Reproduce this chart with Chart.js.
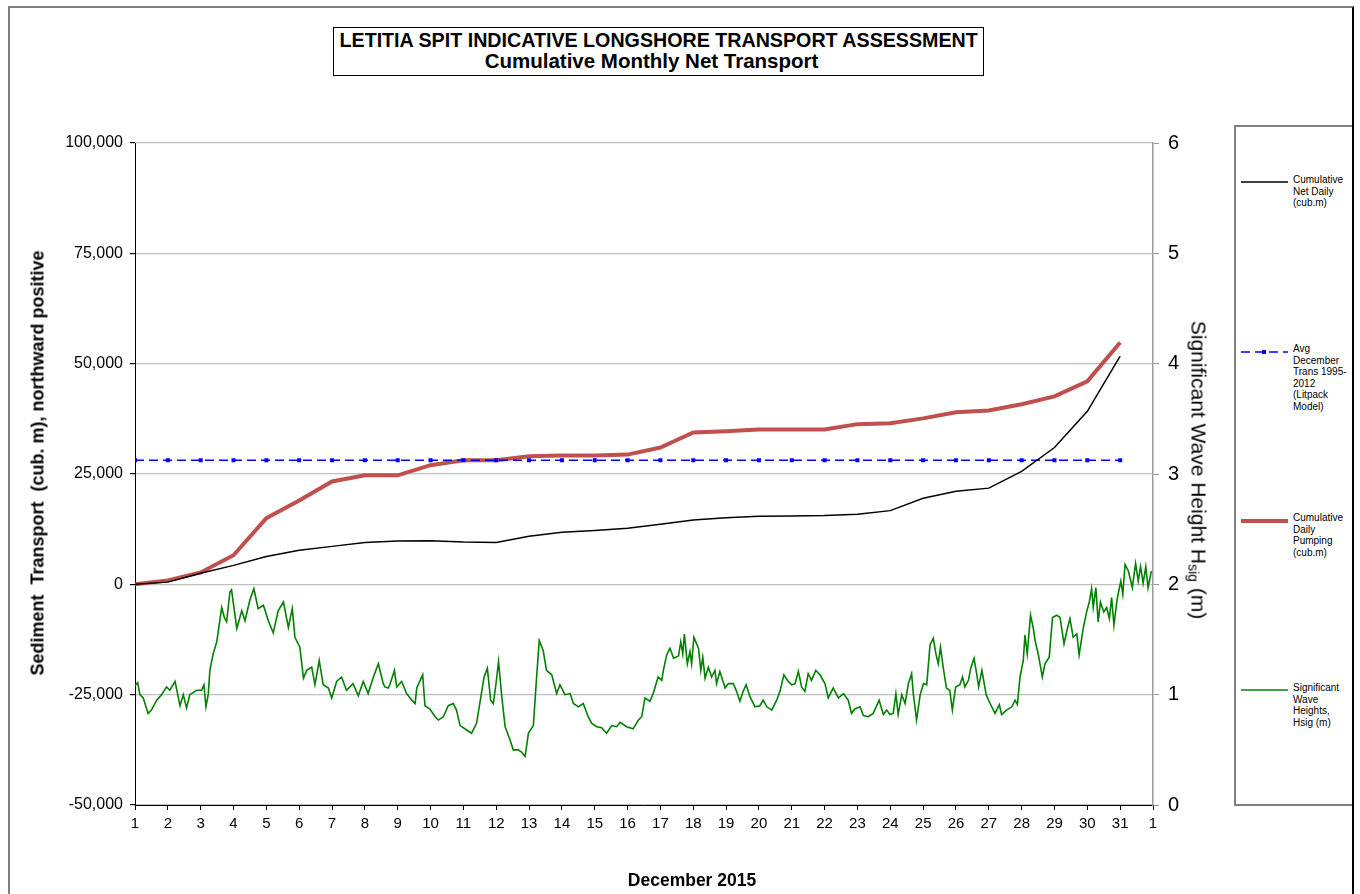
<!DOCTYPE html>
<html>
<head>
<meta charset="utf-8">
<script src="https://cdn.jsdelivr.net/npm/chart.js@4/dist/chart.umd.min.js"></script>
<style>
  html, body { margin: 0; padding: 0; background: #fff; }
  body { width: 1360px; height: 894px; position: relative; overflow: hidden; font-family: "Liberation Sans", Arial, sans-serif; color: #000; }
  #wrap { position: absolute; left: 0; top: 0; width: 1360px; height: 894px; }
  canvas { position: absolute; left: 0; top: 0; }
  .frame { position: absolute; left: 8px; top: 6px; width: 1342px; height: 900px; border-top: 2px solid #808080; border-left: 2px solid #808080; border-right: 2px solid #000; pointer-events: none; }
  .title { position: absolute; left: 333px; top: 27px; width: 649px; height: 47px; border: 1px solid #000; background: #fff; text-align: center; font-weight: bold; }
  .title .l1 { font-size: 20px; line-height: 21px; margin-top: 2px; transform: scaleX(0.983); white-space: nowrap; }
  .title .l2 { font-size: 20.5px; line-height: 21px; white-space: nowrap; padding-right: 14px; margin-top: -1px; }
  .rot { position: absolute; white-space: nowrap; transform-origin: center center; }
  .ytitle { left: 38px; top: 463px; transform: translate(-50%, -50%) rotate(-90deg); font-weight: bold; font-size: 18px; white-space: pre; }
  .y2title { left: 1198px; top: 470px; transform: translate(-50%, -50%) rotate(90deg); font-size: 21px; }
  .y2title sub { font-size: 14px; vertical-align: -3px; }
  .xtitle { position: absolute; left: 692px; top: 880px; transform: translate(-50%, -50%); font-weight: bold; font-size: 17.5px; white-space: nowrap; }
  .legend { position: absolute; left: 1234px; top: 125px; width: 116px; height: 677px; border-top: 2px solid #808080; border-left: 2px solid #808080; border-bottom: 2px solid #808080; background: #fff; }
  .item { position: absolute; left: 0; width: 116px; }
  .item svg { position: absolute; left: 5px; top: 0; }
  .item .txt { position: absolute; left: 57px; top: -6px; font-size: 10px; line-height: 11.5px; }
</style>
</head>
<body>
<div id="wrap"><canvas id="c" width="1360" height="894"></canvas></div>
<div class="frame"></div>
<div class="title"><div class="l1">LETITIA SPIT INDICATIVE LONGSHORE TRANSPORT ASSESSMENT</div><div class="l2">Cumulative Monthly Net Transport</div></div>
<div class="rot ytitle">Sediment  Transport  (cub. m), northward positive</div>
<div class="rot y2title">Significant Wave Height H<sub>sig</sub> (m)</div>
<div class="xtitle">December 2015</div>
<div class="legend">
  <div class="item" style="top:53px"><svg width="48" height="4"><line x1="0" y1="2" x2="47" y2="2" stroke="#000" stroke-width="1.5"/></svg><div class="txt">Cumulative<br>Net Daily<br>(cub.m)</div></div>
  <div class="item" style="top:222px"><svg width="48" height="6"><line x1="0" y1="3" x2="47" y2="3" stroke="#0000ff" stroke-width="1.5" stroke-dasharray="9,5"/><rect x="21" y="1" width="4" height="4" fill="#0000ff"/></svg><div class="txt">Avg<br>December<br>Trans 1995-<br>2012<br>(Litpack<br>Model)</div></div>
  <div class="item" style="top:391px"><svg width="48" height="6"><line x1="0" y1="3" x2="47" y2="3" stroke="#c0504d" stroke-width="4"/></svg><div class="txt">Cumulative<br>Daily<br>Pumping<br>(cub.m)</div></div>
  <div class="item" style="top:561px"><svg width="48" height="4"><line x1="0" y1="2" x2="47" y2="2" stroke="#008000" stroke-width="1.5"/></svg><div class="txt">Significant<br>Wave<br>Heights,<br>Hsig (m)</div></div>
</div>
<script>
const days = [1,2,3,4,5,6,7,8,9,10,11,12,13,14,15,16,17,18,19,20,21,22,23,24,25,26,27,28,29,30,31];
const cumulativeNet = [0,500,2500,4300,6300,7700,8600,9500,9800,9900,9600,9500,10900,11800,12200,12700,13600,14600,15100,15400,15500,15600,15900,16700,19500,21100,21800,25600,31000,39200,51700];
const cumulativePumping = [0,900,2700,6600,15000,19000,23300,24700,24700,27000,28100,28100,29000,29200,29200,29400,31000,34400,34700,35100,35100,35100,36300,36500,37600,39000,39400,40800,42600,46000,54800];
const avgDecember = [28100,28100,28100,28100,28100,28100,28100,28100,28100,28100,28100,28100,28100,28100,28100,28100,28100,28100,28100,28100,28100,28100,28100,28100,28100,28100,28100,28100,28100,28100,28100];
const waveDays = [1.00,1.08,1.15,1.25,1.40,1.50,1.66,1.81,1.96,2.06,2.22,2.37,2.47,2.57,2.67,2.88,3.03,3.10,3.16,3.23,3.28,3.38,3.49,3.64,3.72,3.79,3.89,3.94,4.10,4.25,4.35,4.50,4.62,4.75,4.91,5.06,5.21,5.36,5.52,5.67,5.79,5.87,6.02,6.13,6.23,6.38,6.48,6.61,6.73,6.89,6.99,7.14,7.29,7.44,7.64,7.80,7.95,8.10,8.26,8.41,8.56,8.61,8.71,8.76,8.90,8.97,9.12,9.27,9.43,9.53,9.58,9.76,9.83,9.98,10.14,10.24,10.39,10.54,10.69,10.79,10.90,11.10,11.25,11.40,11.50,11.63,11.73,11.83,11.91,11.99,12.07,12.17,12.27,12.42,12.52,12.67,12.77,12.88,12.98,13.13,13.23,13.31,13.43,13.53,13.69,13.84,13.94,14.09,14.25,14.35,14.50,14.65,14.80,14.91,15.06,15.21,15.36,15.52,15.67,15.77,15.97,16.17,16.33,16.43,16.53,16.68,16.78,16.93,17.04,17.09,17.19,17.29,17.40,17.55,17.62,17.68,17.73,17.82,17.90,17.95,18.02,18.16,18.23,18.29,18.36,18.46,18.56,18.66,18.71,18.81,18.97,19.07,19.22,19.32,19.42,19.52,19.61,19.73,19.88,20.03,20.13,20.24,20.39,20.54,20.64,20.76,20.89,21.00,21.10,21.20,21.30,21.40,21.50,21.60,21.73,21.86,22.01,22.11,22.26,22.42,22.57,22.72,22.82,22.92,23.08,23.18,23.33,23.48,23.66,23.79,23.89,23.99,24.09,24.17,24.24,24.35,24.45,24.55,24.65,24.70,24.80,24.91,25.01,25.11,25.21,25.31,25.39,25.46,25.53,25.61,25.71,25.81,25.89,25.99,26.12,26.20,26.27,26.38,26.45,26.55,26.63,26.69,26.79,26.92,27.04,27.19,27.32,27.39,27.54,27.70,27.80,27.87,27.95,28.05,28.10,28.17,28.27,28.35,28.41,28.51,28.63,28.71,28.84,28.94,29.07,29.17,29.29,29.37,29.47,29.57,29.68,29.75,29.88,29.98,30.06,30.13,30.18,30.26,30.33,30.40,30.50,30.59,30.67,30.74,30.81,30.91,31.02,31.08,31.15,31.25,31.37,31.47,31.55,31.62,31.70,31.78,31.85,31.95];
const waveHeights = [1.08,1.11,1.00,0.97,0.83,0.86,0.95,1.00,1.07,1.04,1.12,0.90,1.00,0.88,1.00,1.04,1.04,1.09,0.89,1.00,1.22,1.37,1.48,1.79,1.70,1.66,1.93,1.95,1.60,1.76,1.67,1.86,1.96,1.78,1.81,1.67,1.56,1.76,1.84,1.61,1.78,1.52,1.43,1.15,1.22,1.25,1.09,1.31,1.09,1.06,0.97,1.12,1.16,1.04,1.10,0.99,1.12,1.01,1.16,1.28,1.10,1.07,1.06,1.09,1.22,1.07,1.12,1.01,0.95,0.92,1.06,1.18,0.90,0.87,0.80,0.77,0.80,0.90,0.92,0.86,0.72,0.68,0.65,0.74,0.92,1.16,1.24,0.95,0.92,1.09,1.30,0.98,0.71,0.59,0.50,0.50,0.48,0.44,0.65,0.72,1.16,1.49,1.40,1.22,1.18,1.01,1.09,1.00,1.01,0.92,0.89,0.92,0.80,0.74,0.71,0.70,0.65,0.72,0.71,0.75,0.71,0.69,0.77,0.80,0.97,0.94,1.01,1.16,1.13,1.22,1.36,1.42,1.33,1.35,1.48,1.37,1.55,1.28,1.39,1.28,1.52,1.42,1.22,1.34,1.15,1.25,1.16,1.22,1.10,1.21,1.06,1.10,1.10,1.03,0.94,1.03,1.09,0.98,0.89,0.90,0.95,0.89,0.86,0.95,1.03,1.18,1.12,1.09,1.10,1.21,1.07,1.03,1.19,1.13,1.22,1.18,1.10,0.97,1.06,0.97,1.01,0.95,0.83,0.87,0.89,0.81,0.80,0.83,0.95,0.82,0.86,0.82,0.83,1.01,0.82,1.00,0.92,1.10,1.19,1.01,0.77,1.00,1.10,1.09,1.45,1.51,1.37,1.28,1.43,1.25,1.06,1.04,0.86,1.07,1.09,1.16,1.07,1.13,1.24,1.33,1.19,1.07,1.22,1.00,0.92,0.83,0.91,0.82,0.86,0.89,0.95,0.91,1.16,1.31,1.54,1.37,1.72,1.61,1.49,1.36,1.16,1.28,1.34,1.70,1.72,1.70,1.46,1.57,1.69,1.52,1.55,1.36,1.61,1.75,1.84,1.96,1.79,1.97,1.66,1.84,1.75,1.79,1.69,1.88,1.63,1.87,2.03,1.91,2.18,2.12,1.97,2.19,2.03,2.16,2.01,2.16,1.97,2.12];
const xTickLabels = ['1','2','3','4','5','6','7','8','9','10','11','12','13','14','15','16','17','18','19','20','21','22','23','24','25','26','27','28','29','30','31','1'];

Chart.defaults.font.family = '"Liberation Sans", Arial, sans-serif';
Chart.defaults.color = '#000';

const pts = (xs, ys) => xs.map((x, i) => ({ x: x, y: ys[i] }));

new Chart(document.getElementById('c'), {
  type: 'line',
  data: {
    datasets: [
      { label: 'Cumulative Net Daily (cub.m)', data: pts(days, cumulativeNet), borderColor: '#000', borderWidth: 1.5, pointRadius: 0, yAxisID: 'y', tension: 0 },
      { label: 'Avg December Trans 1995-2012 (Litpack Model)', data: pts(days, avgDecember), borderColor: '#0000ff', borderWidth: 1.5, borderDash: [9, 5], pointStyle: 'rect', pointRadius: 1.8, pointBackgroundColor: '#0000ff', pointBorderColor: '#0000ff', yAxisID: 'y' },
      { label: 'Cumulative Daily Pumping (cub.m)', data: pts(days, cumulativePumping), borderColor: '#c0504d', borderWidth: 4, pointRadius: 0, yAxisID: 'y', tension: 0 },
      { label: 'Significant Wave Heights, Hsig (m)', data: pts(waveDays, waveHeights), borderColor: '#008000', borderWidth: 1.6, pointRadius: 0, yAxisID: 'y2', tension: 0 }
    ]
  },
  options: {
    responsive: false,
    animation: false,
    layout: { padding: { top: 143, left: 0, right: 0, bottom: 0 } },
    plugins: { legend: { display: false }, tooltip: { enabled: false }, title: { display: false } },
    scales: {
      x: {
        type: 'linear', min: 1, max: 32,
        afterFit: s => { s.height = 89; },
        ticks: { stepSize: 1, autoSkip: false, maxRotation: 0, padding: 5, font: { size: 15 }, callback: (v) => xTickLabels[Math.round(v) - 1] },
        grid: { drawOnChartArea: false, tickLength: 5, tickColor: '#000' },
        border: { color: '#000', width: 1 }
      },
      y: {
        position: 'left', min: -50000, max: 100000,
        afterFit: s => { s.width = 135; },
        ticks: { stepSize: 25000, padding: 7, font: { size: 16 }, callback: (v) => v.toLocaleString('en-US') },
        grid: { color: '#c0c0c0', lineWidth: 1.2, tickLength: 5, tickColor: '#000' },
        border: { color: '#000', width: 1 }
      },
      y2: {
        position: 'right', min: 0, max: 6,
        afterFit: s => { s.width = 207; },
        ticks: { stepSize: 1, padding: 9, font: { size: 20 } },
        grid: { drawOnChartArea: false, tickLength: 6, tickColor: '#999' },
        border: { color: '#999', width: 1.5 }
      }
    }
  }
});
</script>
</body>
</html>
